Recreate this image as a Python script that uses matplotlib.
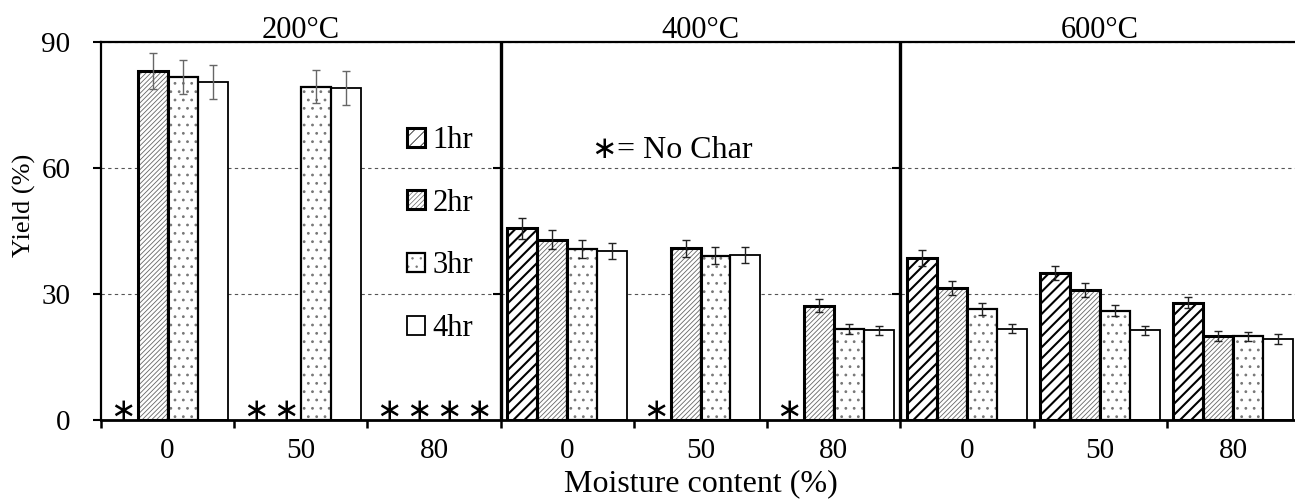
import numpy as np
import matplotlib
matplotlib.use('Agg')
from matplotlib import pyplot as plt
from matplotlib.patches import Patch

plt.rcParams['font.family'] = ['Liberation Serif', 'DejaVu Serif']

# data (nan = no char)
temps = ['200°C', '400°C', '600°C']
moisture = ['0', '50', '80']
hours = ['1hr', '2hr', '3hr', '4hr']
nan = np.nan

# rows: moisture 0, 50, 80 ; columns: 1hr, 2hr, 3hr, 4hr
yield_200 = [[nan, 83.2, 81.7, 80.5],
             [nan, nan, 79.4, 79.0],
             [nan, nan, nan, nan]]
err_200 = [[0, 4.3, 4.0, 4.0],
           [0, 0, 4.0, 4.0],
           [0, 0, 0, 0]]
yield_400 = [[45.6, 42.9, 40.7, 40.2],
             [nan, 40.9, 39.1, 39.3],
             [nan, 27.2, 21.7, 21.4]]
err_400 = [[2.4, 2.3, 2.1, 1.9],
           [0, 2.0, 2.0, 2.0],
           [0, 1.5, 1.2, 1.1]]
yield_600 = [[38.6, 31.5, 26.4, 21.7],
             [35.0, 31.0, 26.0, 21.4],
             [27.9, 20.1, 19.9, 19.3]]
err_600 = [[1.9, 1.7, 1.4, 1.1],
           [1.7, 1.6, 1.3, 1.1],
           [1.3, 1.2, 1.0, 1.1]]

yields = np.array([yield_200, yield_400, yield_600])   # temp, moisture, hour
errs = np.array([err_200, err_400, err_600])

# bar looks per duration
hatches = ['///', '///////', '..', '']
hatch_cols = ['black', '#666666', '#777777', 'white']
hatch_lws = [1.5, 0.6, 0.8, 0.5]
edge_lws = [2.2, 2.2, 1.6, 1.3]
err_cols = ['#666666', '#222222', '#222222']

fig = plt.figure(figsize=(12.95, 4.99), dpi=100)
ax = fig.add_axes([101 / 1295, 79 / 499, 1199 / 1295, 378 / 499])

n_groups = len(temps) * len(moisture)
w = 0.225
centers = np.arange(n_groups) + 0.5

for k in range(len(hours)):
    xs = centers + (k - 1.5) * w
    ys = yields[:, :, k].ravel()
    es = errs[:, :, k].ravel()
    ecol = np.repeat(err_cols, len(moisture))
    ok = ~np.isnan(ys)
    plt.rcParams['hatch.linewidth'] = hatch_lws[k]
    fill = ax.bar(xs[ok], ys[ok], w, color='white', edgecolor=hatch_cols[k],
                  hatch=hatches[k], linewidth=0, zorder=2)
    for p in fill:
        if hasattr(p, 'set_hatch_linewidth'):
            p.set_hatch_linewidth(hatch_lws[k])
    ax.bar(xs[ok], ys[ok], w, fill=False, edgecolor='black',
           linewidth=edge_lws[k], zorder=3)
    for x, y, e, c in zip(xs[ok], ys[ok], es[ok], ecol[ok]):
        ax.errorbar(x, y, yerr=e, fmt='none', ecolor=c, elinewidth=1.0,
                    capsize=3, capthick=1.0, zorder=4)
    # no char markers
    for x in xs[~ok]:
        ax.text(x, 0, '∗', ha='center', va='baseline', fontsize=22,
                family='DejaVu Sans', zorder=5)

ax.set_xlim(0, n_groups)
ax.set_ylim(0, 90)
ax.set_yticks([0, 30, 60, 90])
ax.tick_params(axis='y', labelsize=21, length=6, width=1.5, direction='out', pad=16)
ax.yaxis.grid(True, linestyle=(0, (3, 3)), color='#555555', linewidth=0.8)
ax.set_axisbelow(True)

ax.set_xticks(np.arange(n_groups + 1))
ax.set_xticklabels([])
ax.tick_params(axis='x', which='major', length=6, width=1.8, direction='out')
ax.set_xticks(centers, minor=True)
ax.set_xticklabels(moisture * len(temps), minor=True)
ax.tick_params(axis='x', which='minor', length=0, labelsize=21, pad=13)

for side in ['left', 'top']:
    ax.spines[side].set_linewidth(1.6)
ax.spines['bottom'].set_linewidth(2.0)
ax.spines['right'].set_visible(False)

# panel separators with little ticks
for t in range(1, len(temps)):
    xd = t * len(moisture)
    ax.axvline(xd, color='black', linewidth=2.4, zorder=6)
    ax.plot([xd, xd], [30, 60], linestyle='none', marker=0, markersize=6,
            markeredgewidth=1.5, color='black', zorder=6)

for t, lab in enumerate(temps):
    ax.text((t + 0.5) * len(moisture), 91.0, lab, ha='center', va='baseline',
            fontsize=22)

ax.set_ylabel('Yield (%)', fontsize=19)
ax.yaxis.set_label_coords(-0.054, 0.569)
ax.set_xlabel('Moisture content (%)', fontsize=23, labelpad=4)

ax.text(3.87, 62.4, '∗', ha='right', va='baseline', fontsize=22,
        family='DejaVu Sans')
ax.text(3.87, 62.4, '= No Char', ha='left', va='baseline', fontsize=23)

handles = []
for k in range(len(hours)):
    h1 = Patch(facecolor='white', edgecolor=hatch_cols[k], hatch=hatches[k],
               linewidth=0)
    h2 = Patch(fill=False, edgecolor='black', linewidth=edge_lws[k])
    handles.append((h1, h2))
fig.legend(handles, hours, loc='upper left', bbox_to_anchor=(407 / 1295, 1 - 126 / 499),
           frameon=False, fontsize=22, handlelength=0.58, handleheight=0.58,
           handletextpad=0.25, labelspacing=1.1, borderpad=0, borderaxespad=0)

fig.savefig('out.png', dpi=100)
